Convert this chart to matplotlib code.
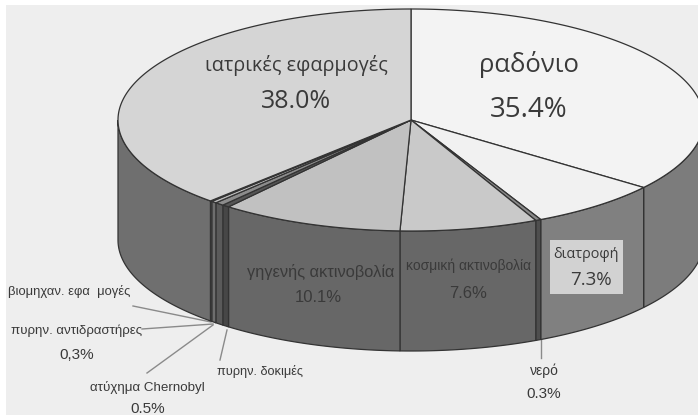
import numpy as np
import matplotlib
matplotlib.use("Agg")
import matplotlib.pyplot as plt
from matplotlib.patches import Polygon, Rectangle

# share of each slice in %, clockwise from 12 o'clock
names = ["radon", "food", "water", "cosmic", "terrestrial", "tests", "chernobyl", "reactors", "industry", "medical"]
values = [35.4, 7.3, 0.3, 7.6, 10.1, 0.4, 0.5, 0.3, 0.1, 38.0]
top_colors = ["#f3f3f3", "#f1f1f1", "#8a8a8a", "#c9c9c9", "#c1c1c1", "#555555", "#8c8c8c", "#bdbdbd", "#dddddd", "#d5d5d5"]
side_colors = ["#7c7c7c", "#808080", "#4e4e4e", "#676767", "#676767", "#474747", "#5a5a5a", "#6e6e6e", "#858585", "#6f6f6f"]

# pie geometry in pixels
cx, cy = 411, 120
rx, ry = 293, 111
depth = 120


def rim(a, b):
    t = np.radians(np.linspace(a, b, max(int(abs(b - a) * 2), 2)))
    return cx + rx * np.sin(t), cy - ry * np.cos(t)


fig = plt.figure(figsize=(6.98, 4.18), dpi=100, facecolor="white")
ax = fig.add_axes([0, 0, 1, 1])
ax.set_xlim(0, 698)
ax.set_ylim(418, 0)
ax.axis("off")

ax.add_patch(Rectangle((6, 5), 692, 410, facecolor="#eeeeee", edgecolor="none", zorder=0))

angles = np.cumsum([0] + values) * 3.6

# side wall, only the front half shows
for i in range(len(values)):
    a = max(angles[i], 90)
    b = min(angles[i + 1], 270)
    if b <= a:
        continue
    x, y = rim(a, b)
    px = np.concatenate([x, x[::-1]])
    py = np.concatenate([y, y[::-1] + depth])
    ax.add_patch(Polygon(np.column_stack([px, py]), closed=True, facecolor=side_colors[i],
                         edgecolor="#333333", linewidth=0.9, zorder=2))

# top face
for i in range(len(values)):
    x, y = rim(angles[i], angles[i + 1])
    px = np.concatenate([[cx], x])
    py = np.concatenate([[cy], y])
    ax.add_patch(Polygon(np.column_stack([px, py]), closed=True, facecolor=top_colors[i],
                         edgecolor="#333333", linewidth=0.9, zorder=3))

# leader lines
leaders = [((133, 306), (211, 322)), ((142, 329), (213, 324)), ((147, 373), (213, 325)),
           ((220, 360), (227, 330)), ((541, 338), (541, 358))]
for p, q in leaders:
    ax.plot([p[0], q[0]], [p[1], q[1]], color="#8a8a8a", linewidth=1, zorder=1)

ax.add_patch(Rectangle((550, 240), 73, 54, facecolor="#d2d2d2", edgecolor="none", zorder=4))

wide = ["Open Sans", "DejaVu Sans"]
narrow = ["Liberation Sans", "DejaVu Sans"]
labels = [
    ("ιατρικές εφαρμογές", 296, 65, 14.2, wide),
    ("38.0%", 296, 101, 18, wide),
    ("ραδόνιο", 529, 64, 18.5, wide),
    ("35.4%", 529, 110, 20, wide),
    ("γηγενής ακτινοβολία", 321, 272, 11.8, narrow),
    ("10.1%", 318, 298, 12, narrow),
    ("κοσμική ακτινοβολία", 469, 266, 10, narrow),
    ("7.6%", 468, 293, 12, narrow),
    ("διατροφή", 586, 254, 10.4, wide),
    ("7.3%", 591, 280, 13.5, wide),
    ("νερό", 544, 371, 10, narrow),
    ("0.3%", 544, 394, 11, narrow),
    ("πυρην. δοκιμές", 260, 372, 9.2, narrow),
    ("ατύχημα Chernobyl", 147, 387, 9.6, narrow),
    ("0.5%", 148, 409, 11, narrow),
    ("πυρην. αντιδραστήρες", 77, 331, 9.5, narrow),
    ("0,3%", 77, 355, 11, narrow),
    ("βιομηχαν. εφα  μογές", 69, 291, 9.4, narrow),
]
for s, x, y, size, fam in labels:
    ax.text(x, y, s, fontsize=size, family=fam, color="#3a3a3a", ha="center", va="center", zorder=5)

fig.savefig("out.png", dpi=100)
